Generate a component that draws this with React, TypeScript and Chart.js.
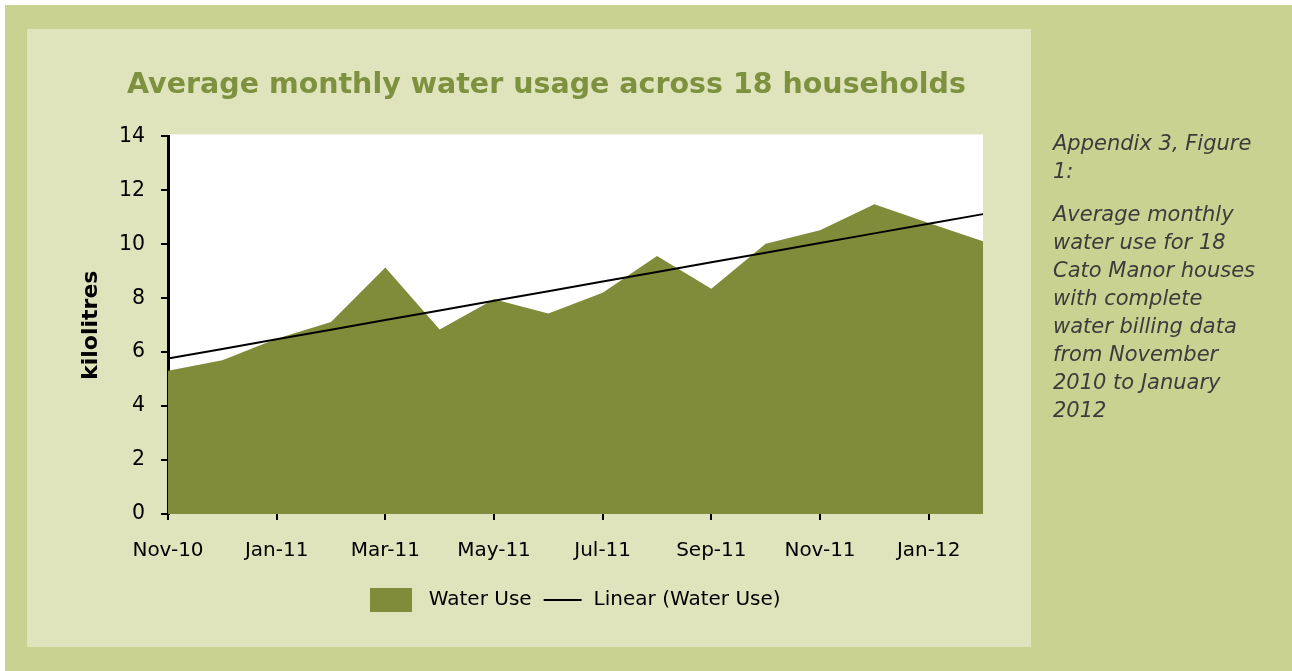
import React, { useEffect, useRef } from "react";
import { Chart, registerables } from "chart.js";

Chart.register(...registerables);

// ---- Data ----
const months = [
  "Nov-10", "Dec-10", "Jan-11", "Feb-11", "Mar-11", "Apr-11", "May-11", "Jun-11",
  "Jul-11", "Aug-11", "Sep-11", "Oct-11", "Nov-11", "Dec-11", "Jan-12", "Feb-12",
];
const waterUse = [
  5.31, 5.7, 6.5, 7.12, 9.14, 6.84, 7.96, 7.43,
  8.2, 9.57, 8.35, 10.02, 10.52, 11.48, 10.79, 10.11,
];
const yMin = 0;
const yMax = 14;
const yStep = 2;

const chartTitle = "Average monthly water usage across 18 households";
const yAxisTitle = "kilolitres";
const seriesName = "Water Use";
const trendName = "Linear (Water Use)";
const captionHead = ["Appendix 3, Figure", "1:"];
const captionBody = [
  "Average monthly",
  "water use for 18",
  "Cato Manor houses",
  "with complete",
  "water billing data",
  "from November",
  "2010 to January",
  "2012",
];

// ---- Style ----
const OUTER_BG = "#cad291";
const PANEL_BG = "#dfe4bc";
const OLIVE = "#818c3a";
const TITLE_COLOR = "#7e913f";
const CAPTION_COLOR = "#3c3c3c";
const FONT = "'DejaVu Sans', sans-serif";

// Least-squares linear trend of the series (what "Linear (Water Use)" shows)
function linearTrend(values: number[]): number[] {
  const n = values.length;
  const mx = (n - 1) / 2;
  const my = values.reduce((a, b) => a + b, 0) / n;
  let sxy = 0;
  let sxx = 0;
  values.forEach((v, i) => {
    sxy += (i - mx) * (v - my);
    sxx += (i - mx) * (i - mx);
  });
  const slope = sxy / sxx;
  return values.map((_, i) => my + slope * (i - mx));
}

const plotBgPlugin = {
  id: "plotBg",
  beforeDraw(chart: any) {
    const { ctx, chartArea } = chart;
    if (!chartArea) return;
    ctx.save();
    ctx.fillStyle = "#ffffff";
    ctx.fillRect(chartArea.left, chartArea.top - 2, chartArea.right - chartArea.left, chartArea.bottom - chartArea.top + 2);
    ctx.restore();
  },
};

export default function App() {
  const canvasRef = useRef<HTMLCanvasElement | null>(null);

  useEffect(() => {
    const canvas = canvasRef.current;
    if (!canvas) return;

    const boxImg = document.createElement("canvas");
    boxImg.width = 42;
    boxImg.height = 24;
    const bctx = boxImg.getContext("2d")!;
    bctx.fillStyle = OLIVE;
    bctx.fillRect(0, 0, 42, 24);

    const lineImg = document.createElement("canvas");
    lineImg.width = 42;
    lineImg.height = 2;
    const lctx = lineImg.getContext("2d")!;
    lctx.fillStyle = "#000";
    lctx.fillRect(2, 0, 38, 2);

    const trend = linearTrend(waterUse);

    const chart = new Chart(canvas, {
      type: "line",
      data: {
        labels: months,
        datasets: [
          {
            label: seriesName,
            data: waterUse,
            fill: "origin",
            backgroundColor: OLIVE,
            borderColor: OLIVE,
            borderWidth: 0,
            pointRadius: 0,
            tension: 0,
            order: 2,
          },
          {
            label: trendName,
            data: trend,
            fill: false,
            borderColor: "#000",
            borderWidth: 2,
            pointRadius: 0,
            tension: 0,
            order: 1,
          },
        ],
      },
      options: {
        responsive: false,
        animation: false,
        devicePixelRatio: 1,
        layout: { padding: { left: 0, right: 0, top: 0, bottom: 27 } },
        plugins: {
          tooltip: { enabled: false },
          title: {
            display: true,
            text: chartTitle,
            color: TITLE_COLOR,
            font: { family: FONT, size: 28.5, weight: "bold" },
            padding: { top: 39, bottom: 34.2 },
          },
          legend: {
            display: true,
            position: "bottom",
            fullSize: false,
            labels: {
              usePointStyle: true,
              pointStyleWidth: 42,
              boxHeight: 20,
              padding: 10,
              color: "#000",
              font: { family: FONT, size: 20 },
              generateLabels: () => [
                {
                  text: " " + seriesName,
                  fillStyle: OLIVE,
                  strokeStyle: OLIVE,
                  lineWidth: 0,
                  pointStyle: boxImg as any,
                  hidden: false,
                  datasetIndex: 0,
                  fontColor: "#000",
                },
                {
                  text: trendName,
                  fillStyle: "#000",
                  strokeStyle: "#000",
                  lineWidth: 0,
                  pointStyle: lineImg as any,
                  hidden: false,
                  datasetIndex: 1,
                  fontColor: "#000",
                },
              ],
            },
          },
        },
        scales: {
          x: {
            type: "category",
            offset: false,
            border: { display: false },
            grid: {
              display: true,
              offset: false,
              drawOnChartArea: false,
              drawTicks: true,
              tickLength: 6,
              lineWidth: 2,
              color: (c: any) => (c.index % 2 === 0 ? "#000" : "rgba(0,0,0,0)"),
            },
            ticks: {
              autoSkip: false,
              maxRotation: 0,
              minRotation: 0,
              padding: 19,
              color: "#000",
              font: { family: FONT, size: 20 },
              callback: (_v: any, i: number) => (i % 2 === 0 ? months[i] : ""),
            },
            afterFit: (scale: any) => {
              scale.height = 66;
            },
          },
          y: {
            min: yMin,
            max: yMax,
            border: { display: true, color: "#000", width: 3 },
            grid: {
              display: true,
              drawOnChartArea: false,
              drawTicks: true,
              tickLength: 7,
              lineWidth: 2,
              color: "#000",
            },
            ticks: {
              stepSize: yStep,
              padding: 16,
              color: "#000",
              font: { family: FONT, size: 20.5 },
            },
            title: {
              display: true,
              text: yAxisTitle,
              color: "#000",
              font: { family: FONT, size: 22, weight: "bold" },
              padding: { top: 51, bottom: 0 },
            },
            afterFit: (scale: any) => {
              scale.width = 141;
            },
          },
          // empty right-hand margin beside the plot (no marks)
          yRight: {
            position: "right",
            display: true,
            grid: { display: false, drawTicks: false },
            border: { display: false },
            ticks: { display: false },
            afterFit: (scale: any) => {
              scale.width = 83;
            },
          },
        },
      },
      plugins: [plotBgPlugin],
    } as any);

    return () => {
      chart.destroy();
    };
  }, []);

  return (
    <div
      style={{
        position: "fixed",
        left: 0,
        top: 0,
        width: 1292,
        height: 671,
        background: "#ffffff",
        overflow: "hidden",
      }}
    >
      <div
        style={{
          position: "absolute",
          left: 5,
          top: 5,
          width: 1287,
          height: 666,
          background: OUTER_BG,
        }}
      />
      <div
        style={{
          position: "absolute",
          left: 27,
          top: 29,
          width: 1004,
          height: 618,
          background: PANEL_BG,
        }}
      />
      <canvas
        ref={canvasRef}
        width={1039}
        height={618}
        style={{ position: "absolute", left: 27, top: 29, width: 1039, height: 618 }}
      />
      <div
        style={{
          position: "absolute",
          left: 1053,
          top: 129,
          width: 235,
          fontFamily: FONT,
          fontStyle: "italic",
          fontSize: 21,
          lineHeight: "28px",
          color: CAPTION_COLOR,
          whiteSpace: "nowrap",
          zIndex: 2,
        }}
      >
        <div style={{ marginBottom: 15 }}>
          {captionHead.map((l, i) => (
            <div key={i}>{l}</div>
          ))}
        </div>
        <div>
          {captionBody.map((l, i) => (
            <div key={i}>{l}</div>
          ))}
        </div>
      </div>
    </div>
  );
}
